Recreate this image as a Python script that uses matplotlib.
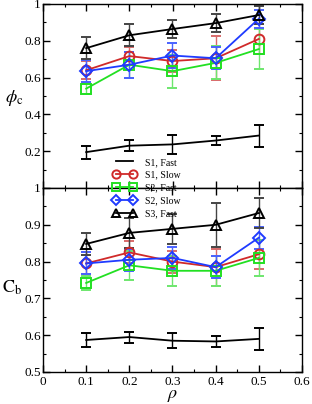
import matplotlib
matplotlib.use("Agg")
import matplotlib.pyplot as plt
from matplotlib.ticker import MultipleLocator

plt.rcParams['font.family'] = ['Liberation Serif', 'DejaVu Serif']
plt.rcParams['mathtext.fontset'] = 'stix'

rho = [0.1, 0.2, 0.3, 0.4, 0.5]
labels = ["S1, Fast", "S1, Slow", "S2, Fast", "S2, Slow", "S3, Fast"]

# top panel: phi_c
phi_s1_fast = [0.195, 0.23, 0.237, 0.258, 0.285]
phi_s1_fast_err = [0.035, 0.03, 0.05, 0.025, 0.06]
phi_s1_slow = [0.64, 0.717, 0.69, 0.705, 0.81]
phi_s1_slow_err = [0.05, 0.05, 0.06, 0.12, 0.08]
phi_s2_fast = [0.54, 0.67, 0.635, 0.68, 0.755]
phi_s2_fast_err = [0.03, 0.07, 0.09, 0.09, 0.11]
phi_s2_slow = [0.635, 0.67, 0.72, 0.705, 0.92]
phi_s2_slow_err = [0.06, 0.07, 0.07, 0.06, 0.05]
phi_s3_fast = [0.76, 0.83, 0.864, 0.896, 0.94]
phi_s3_fast_err = [0.06, 0.06, 0.05, 0.05, 0.05]

# bottom panel: C_b
cb_s1_fast = [0.587, 0.595, 0.585, 0.583, 0.59]
cb_s1_fast_err = [0.02, 0.015, 0.02, 0.015, 0.03]
cb_s1_slow = [0.795, 0.825, 0.80, 0.785, 0.82]
cb_s1_slow_err = [0.03, 0.03, 0.03, 0.05, 0.04]
cb_s2_fast = [0.742, 0.79, 0.775, 0.775, 0.81]
cb_s2_fast_err = [0.02, 0.04, 0.04, 0.04, 0.05]
cb_s2_slow = [0.795, 0.805, 0.81, 0.785, 0.865]
cb_s2_slow_err = [0.03, 0.03, 0.03, 0.03, 0.03]
cb_s3_fast = [0.848, 0.878, 0.889, 0.9, 0.932]
cb_s3_fast_err = [0.03, 0.04, 0.04, 0.06, 0.04]

colors = ["black", "#d02a2a", "#22e022", "#1f3bff", "black"]
ecolors = ["black", "#d86a6a", "#6ee66e", "#4a62ff", "#444444"]
markers = [None, "o", "s", "D", "^"]
msizes = [0, 7, 6.5, 6, 7]

fig = plt.figure(figsize=(3.12, 4.04), dpi=100)
L, R = 43 / 312, 302 / 312
ax1 = fig.add_axes([L, 1 - 188 / 404, R - L, (188 - 4) / 404])
ax2 = fig.add_axes([L, 1 - 372 / 404, R - L, (372 - 188) / 404])

top = [(phi_s1_fast, phi_s1_fast_err), (phi_s1_slow, phi_s1_slow_err),
       (phi_s2_fast, phi_s2_fast_err), (phi_s2_slow, phi_s2_slow_err),
       (phi_s3_fast, phi_s3_fast_err)]
bot = [(cb_s1_fast, cb_s1_fast_err), (cb_s1_slow, cb_s1_slow_err),
       (cb_s2_fast, cb_s2_fast_err), (cb_s2_slow, cb_s2_slow_err),
       (cb_s3_fast, cb_s3_fast_err)]

handles = []
for ax, data in ((ax1, top), (ax2, bot)):
    hs = []
    for (y, e), c, ec, m, ms, lab in zip(data, colors, ecolors, markers, msizes, labels):
        h = ax.errorbar(rho, y, yerr=e, color=c, ecolor=ec, marker=m, ms=ms,
                        mfc='none', mec=c, mew=1.4, lw=1.3, elinewidth=1.0,
                        capsize=3.5, capthick=1.0, label=lab)
        hs.append(h)
    handles = hs
    ax.set_xlim(0, 0.6)
    ax.xaxis.set_major_locator(MultipleLocator(0.1))
    ax.xaxis.set_minor_locator(MultipleLocator(0.05))
    ax.tick_params(which='both', direction='in', top=True, right=True,
                   labelsize=9.5)
    ax.tick_params(axis='y', pad=1.5)
    ax.tick_params(axis='x', pad=3)
    ax.tick_params(which='major', length=5, width=1)
    ax.tick_params(which='minor', length=2.5, width=0.8)
    for s in ax.spines.values():
        s.set_linewidth(1.0)

ax1.set_ylim(0, 1)
ax1.yaxis.set_minor_locator(MultipleLocator(0.1))
ax1.set_yticks([0.2, 0.4, 0.6, 0.8, 1.0])
ax1.set_yticklabels(["0.2", "0.4", "0.6", "0.8", "1"])
ax1.tick_params(labelbottom=False)
ax1.set_ylabel(r"$\phi_{\mathrm{c}}$", fontsize=13, rotation=0,
               va='center', ha='center')
ax1.yaxis.set_label_coords(-0.11, 0.49)

ax2.set_ylim(0.5, 1)
ax2.yaxis.set_minor_locator(MultipleLocator(0.05))
ax2.set_yticks([0.5, 0.6, 0.7, 0.8, 0.9, 1.0])
ax2.set_yticklabels(["0.5", "0.6", "0.7", "0.8", "0.9", "1"])
ax2.set_xticks([0, 0.1, 0.2, 0.3, 0.4, 0.5, 0.6])
ax2.set_xticklabels(["0", "0.1", "0.2", "0.3", "0.4", "0.5", "0.6"])
ax2.set_ylabel(r"$\mathrm{C_b}$", fontsize=13, rotation=0,
               va='center', ha='center')
ax2.yaxis.set_label_coords(-0.12, 0.46)
ax2.set_xlabel(r"$\rho$", fontsize=13, labelpad=-1)

leg_handles = [h[0] for h in handles]
leg = fig.legend(leg_handles, labels, loc='upper left',
                 bbox_to_anchor=(108 / 312, 1 - 153 / 404), frameon=False,
                 fontsize=7, numpoints=2, handlelength=2.4, handletextpad=0.9,
                 labelspacing=0.4, borderpad=0, markerscale=0.85)
leg.set_zorder(10)

fig.savefig("out.png", dpi=100)
